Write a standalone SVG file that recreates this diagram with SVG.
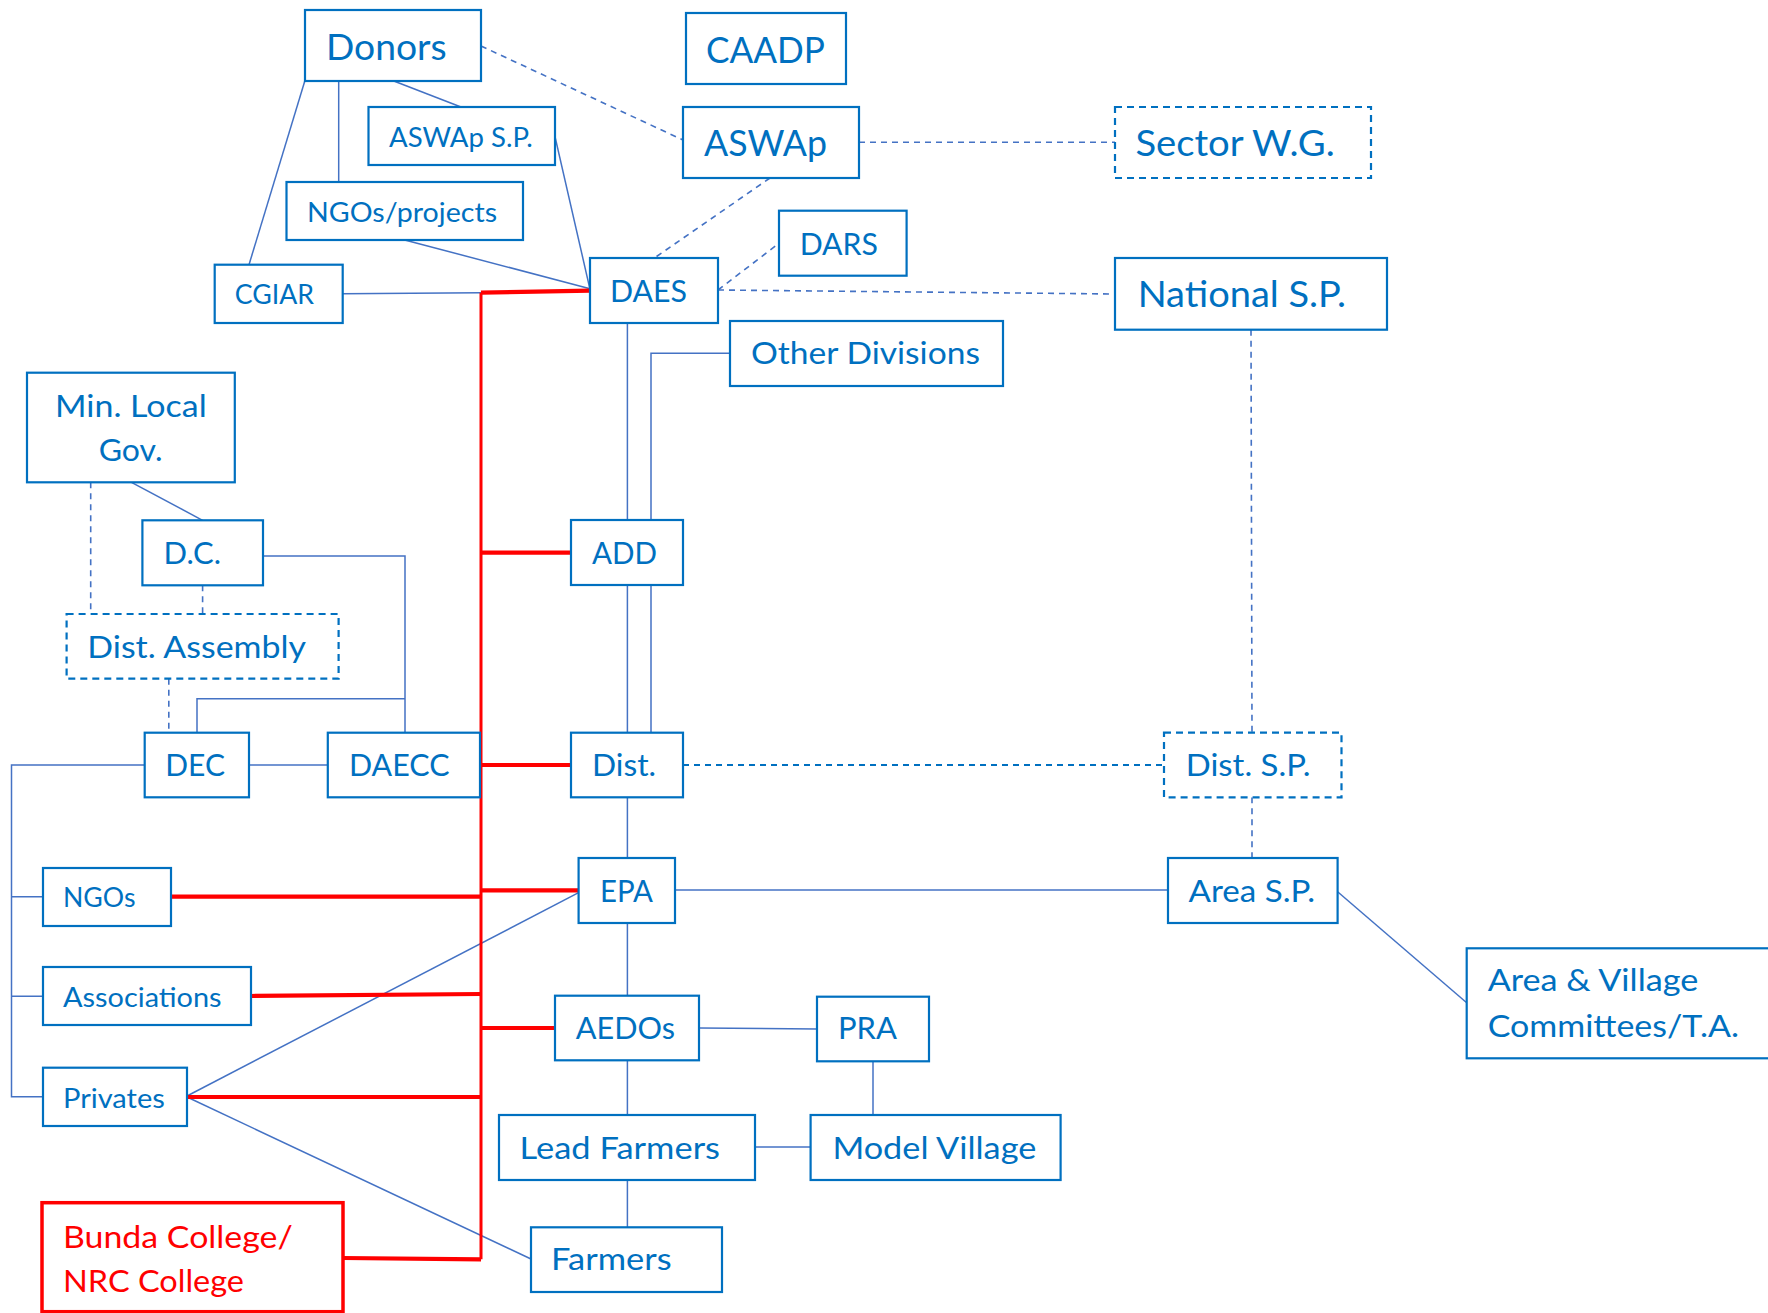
<svg xmlns="http://www.w3.org/2000/svg" width="1768" height="1313" viewBox="0 0 1768 1313">
<style>
.bx{fill:#fff;stroke:#0070C0;stroke-width:2.2}
.dbx{fill:#fff;stroke:#0070C0;stroke-width:2.2;stroke-dasharray:7 5}
.rbx{fill:#fff;stroke:#FF0000;stroke-width:3.5}
.t{font-family:Lato,"Open Sans","Liberation Sans",sans-serif;fill:#0070C0}
.big{font-size:36px}
.med{font-size:31px}
.sm{font-size:27px}
.rt{fill:#FF0000}
.c{fill:none;stroke:#4472C4;stroke-width:1.5}
.d{fill:none;stroke:#4472C4;stroke-width:1.6;stroke-dasharray:6 5}
.d2{fill:none;stroke:#0070C0;stroke-width:2;stroke-dasharray:6 5}
.r{fill:none;stroke:#FF0000;stroke-width:3}
.rh{fill:none;stroke:#FF0000;stroke-width:4.2}
</style>
<rect width="1768" height="1313" fill="#fff"/>
<g id="connectors">
<path class="c" d="M393.8,81 L461,107"/>
<path class="c" d="M338.7,81 L338.7,182"/>
<path class="c" d="M304.8,81 L249,264.7"/>
<path class="c" d="M555,136.7 L590,289.3"/>
<path class="c" d="M404.7,240 L590,288.7"/>
<path class="c" d="M342.7,293.7 L481,292.7"/>
<path class="c" d="M627.4,323 L627.4,520"/>
<path class="c" d="M730,353.3 L651,353.3 L651,520"/>
<path class="c" d="M627.4,585 L627.4,732.7 M651,585 L651,732.7"/>
<path class="c" d="M131.5,482.3 L202.6,520.3"/>
<path class="c" d="M263,556 L405,556 L405,732.7"/>
<path class="c" d="M405,698.7 L197,698.7 L197,732.7"/>
<path class="c" d="M249,765 L327.8,765"/>
<path class="c" d="M144.7,765 L11.5,765 L11.5,1096.7 L43,1096.7 M11.5,896.7 L43,896.7 M11.5,996.3 L43,996.3"/>
<path class="c" d="M627.4,797.3 L627.4,858"/>
<path class="c" d="M675,890 L1168,890"/>
<path class="c" d="M1337.6,891.7 L1466.7,1002.7"/>
<path class="c" d="M187,1096 L578.6,892.7"/>
<path class="c" d="M187,1097 L531,1259"/>
<path class="c" d="M627.4,923 L627.4,995.7"/>
<path class="c" d="M699,1028 L817,1029"/>
<path class="c" d="M627.4,1060.3 L627.4,1115"/>
<path class="c" d="M873,1061.3 L873,1115"/>
<path class="c" d="M755,1147 L810.6,1147"/>
<path class="c" d="M627.4,1180 L627.4,1227.3"/>
<path class="d" d="M481,46 L683,140"/>
<path class="d" d="M859,142.3 L1115,142.3"/>
<path class="d" d="M770,178 L654.4,258"/>
<path class="d" d="M718,290 L779,243.3"/>
<path class="d" d="M718,290 L1115,294"/>
<path class="d" d="M1251,329.7 L1252,732.7"/>
<path class="d2" d="M683,765 L1164,765"/>
<path class="d" d="M1252,797.3 L1252,858"/>
<path class="d" d="M90.7,482.3 L90.7,614"/>
<path class="d" d="M202.6,585.3 L202.6,614"/>
<path class="d" d="M168.8,678.7 L168.8,732.7"/>
<path class="r" d="M481,292.7 L481,1259.3"/>
<path class="rh" d="M481,292.7 L590,290.7"/>
<path class="rh" d="M481,552.7 L571,552.7"/>
<path class="rh" d="M481,765 L571,765"/>
<path class="rh" d="M481,890.3 L578.6,890.3"/>
<path class="rh" d="M171,896.7 L481,896.7"/>
<path class="rh" d="M251,996 L481,994"/>
<path class="rh" d="M481,1028 L555,1028"/>
<path class="rh" d="M187,1097 L481,1097"/>
<path class="rh" d="M343,1258 L481,1259.3"/>
</g>
<g id="donors"><rect class="bx" x="305" y="10" width="176" height="71"/><text class="t big" x="326" y="60" textLength="120.6" lengthAdjust="spacingAndGlyphs">Donors</text></g>
<g id="caadp"><rect class="bx" x="686" y="13" width="160" height="71"/><text class="t big" x="706" y="62.7" textLength="119" lengthAdjust="spacingAndGlyphs">CAADP</text></g>
<g id="aswap-sp"><rect class="bx" x="368.5" y="107" width="186.5" height="58"/><text class="t sm" x="389" y="146.7" textLength="143.7" lengthAdjust="spacingAndGlyphs">ASWAp S.P.</text></g>
<g id="aswap"><rect class="bx" x="683" y="107" width="176" height="71"/><text class="t big" x="704" y="156" textLength="123" lengthAdjust="spacingAndGlyphs">ASWAp</text></g>
<g id="sector-wg"><rect class="dbx" x="1115" y="107" width="256" height="71"/><text class="t big" x="1135.4" y="156" textLength="199.3" lengthAdjust="spacingAndGlyphs">Sector W.G.</text></g>
<g id="ngos-projects"><rect class="bx" x="286.5" y="182" width="236.5" height="58"/><text class="t sm" x="307" y="221.7" textLength="190" lengthAdjust="spacingAndGlyphs">NGOs/projects</text></g>
<g id="dars"><rect class="bx" x="779" y="210.7" width="127.6" height="65"/><text class="t med" x="799.7" y="255" textLength="78.3" lengthAdjust="spacingAndGlyphs">DARS</text></g>
<g id="cgiar"><rect class="bx" x="214.7" y="264.7" width="128" height="58.3"/><text class="t sm" x="234.8" y="304.3" textLength="79.2" lengthAdjust="spacingAndGlyphs">CGIAR</text></g>
<g id="daes"><rect class="bx" x="590" y="258" width="128" height="65"/><text class="t med" x="610" y="302" textLength="77" lengthAdjust="spacingAndGlyphs">DAES</text></g>
<g id="national-sp"><rect class="bx" x="1115" y="258" width="272" height="71.7"/><text class="t big" x="1137.7" y="306.7" textLength="208.3" lengthAdjust="spacingAndGlyphs">National S.P.</text></g>
<g id="other-divisions"><rect class="bx" x="730" y="321" width="273" height="65"/><text class="t med" x="751" y="364.3" textLength="229" lengthAdjust="spacingAndGlyphs">Other Divisions</text></g>
<g id="min-local-gov"><rect class="bx" x="27" y="372.7" width="207.8" height="109.6"/><text class="t med" x="55" y="416.7" textLength="151.7" lengthAdjust="spacingAndGlyphs">Min. Local</text><text class="t med" x="98.7" y="460.7" textLength="63.8" lengthAdjust="spacingAndGlyphs">Gov.</text></g>
<g id="dc"><rect class="bx" x="142.4" y="520.3" width="120.6" height="65"/><text class="t med" x="163.6" y="564" textLength="57.4" lengthAdjust="spacingAndGlyphs">D.C.</text></g>
<g id="add"><rect class="bx" x="571" y="520" width="112" height="65"/><text class="t med" x="592" y="564" textLength="65" lengthAdjust="spacingAndGlyphs">ADD</text></g>
<g id="dist-assembly"><rect class="dbx" x="66.6" y="614" width="272" height="64.7"/><text class="t med" x="87.3" y="658.3" textLength="218.7" lengthAdjust="spacingAndGlyphs">Dist. Assembly</text></g>
<g id="dec"><rect class="bx" x="144.7" y="732.7" width="104.3" height="64.6"/><text class="t med" x="165.3" y="776" textLength="59.7" lengthAdjust="spacingAndGlyphs">DEC</text></g>
<g id="daecc"><rect class="bx" x="327.8" y="732.7" width="152.2" height="64.6"/><text class="t med" x="349" y="776" textLength="100.5" lengthAdjust="spacingAndGlyphs">DAECC</text></g>
<g id="dist"><rect class="bx" x="571" y="732.7" width="112" height="64.6"/><text class="t med" x="592" y="776" textLength="64" lengthAdjust="spacingAndGlyphs">Dist.</text></g>
<g id="dist-sp"><rect class="dbx" x="1164" y="732.7" width="177.5" height="64.6"/><text class="t med" x="1185.8" y="776" textLength="124.6" lengthAdjust="spacingAndGlyphs">Dist. S.P.</text></g>
<g id="ngos"><rect class="bx" x="43" y="868" width="128" height="58"/><text class="t sm" x="63" y="906.7" textLength="72.5" lengthAdjust="spacingAndGlyphs">NGOs</text></g>
<g id="epa"><rect class="bx" x="578.6" y="858" width="96.4" height="65"/><text class="t med" x="600" y="901.7" textLength="53" lengthAdjust="spacingAndGlyphs">EPA</text></g>
<g id="area-sp"><rect class="bx" x="1168" y="858" width="169.6" height="65"/><text class="t med" x="1188.6" y="901.7" textLength="126.4" lengthAdjust="spacingAndGlyphs">Area S.P.</text></g>
<g id="associations"><rect class="bx" x="43" y="967" width="208" height="58"/><text class="t sm" x="63" y="1006.7" textLength="158.6" lengthAdjust="spacingAndGlyphs">Associations</text></g>
<g id="aedos"><rect class="bx" x="555" y="995.7" width="144" height="64.6"/><text class="t med" x="575.8" y="1038.7" textLength="99.2" lengthAdjust="spacingAndGlyphs">AEDOs</text></g>
<g id="pra"><rect class="bx" x="817" y="996.7" width="112" height="64.6"/><text class="t med" x="838" y="1039.3" textLength="59" lengthAdjust="spacingAndGlyphs">PRA</text></g>
<g id="area-village"><rect class="bx" x="1466.7" y="948.3" width="310" height="110"/><text class="t med" x="1487.7" y="991" textLength="210.6" lengthAdjust="spacingAndGlyphs">Area &amp; Village</text><text class="t med" x="1487.7" y="1036.7" textLength="251.3" lengthAdjust="spacingAndGlyphs">Committees/T.A.</text></g>
<g id="privates"><rect class="bx" x="43" y="1067.7" width="144" height="58.3"/><text class="t sm" x="63" y="1107.7" textLength="101.8" lengthAdjust="spacingAndGlyphs">Privates</text></g>
<g id="lead-farmers"><rect class="bx" x="499" y="1115" width="256" height="65"/><text class="t med" x="519.5" y="1158.7" textLength="200.5" lengthAdjust="spacingAndGlyphs">Lead Farmers</text></g>
<g id="model-village"><rect class="bx" x="810.6" y="1115" width="250" height="65"/><text class="t med" x="832.4" y="1158.7" textLength="203.9" lengthAdjust="spacingAndGlyphs">Model Village</text></g>
<g id="bunda"><rect class="rbx" x="42" y="1202.7" width="301" height="109"/><text class="t med rt" x="63" y="1248.3" textLength="229.8" lengthAdjust="spacingAndGlyphs">Bunda College/</text><text class="t med rt" x="63" y="1291.7" textLength="181" lengthAdjust="spacingAndGlyphs">NRC College</text></g>
<g id="farmers"><rect class="bx" x="531" y="1227.3" width="191" height="64.7"/><text class="t med" x="551" y="1270" textLength="120.6" lengthAdjust="spacingAndGlyphs">Farmers</text></g>
</svg>
